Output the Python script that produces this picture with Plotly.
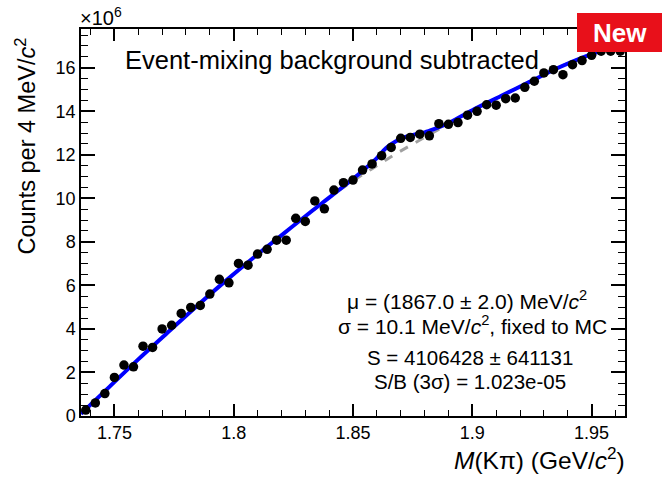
import plotly.graph_objects as go

# ---- data (counts in units of 10^6) ----
mass = [1.738 + 0.004 * i for i in range(57)]  # bin centres, 4 MeV bins
counts = [0.27, 0.60, 1.03, 1.77, 2.34, 2.26, 3.21, 3.15, 4.00, 4.17,
          4.71, 4.99, 5.08, 5.60, 6.28, 6.12, 7.01, 6.93, 7.44, 7.66,
          8.08, 8.08, 9.08, 8.94, 9.88, 9.52, 10.38, 10.72, 10.84, 11.30,
          11.58, 11.96, 12.34, 12.76, 12.80, 12.95, 12.87, 13.43, 13.40, 13.48,
          13.82, 14.00, 14.30, 14.28, 14.58, 14.61, 15.10, 15.38, 15.76, 15.91,
          15.68, 16.14, 16.33, 16.57, 16.76, 16.76, 16.76]

# total fit curve
fit_x = [1.736, 1.748, 1.760, 1.772, 1.784, 1.796, 1.808, 1.820, 1.832, 1.840,
         1.848, 1.852, 1.856, 1.860, 1.864, 1.868, 1.872, 1.876, 1.880, 1.884,
         1.890, 1.900, 1.912, 1.924, 1.936, 1.948, 1.956, 1.964]
fit_y = [0.10, 1.35, 2.60, 3.80, 5.00, 6.15, 7.25, 8.30, 9.35, 10.03,
         10.72, 11.07, 11.45, 11.85, 12.32, 12.62, 12.82, 12.94, 13.03, 13.18,
         13.45, 14.05, 14.70, 15.35, 16.00, 16.55, 16.85, 17.10]

# background-only curve
bg_x = [1.736, 1.748, 1.760, 1.772, 1.784, 1.796, 1.808, 1.820, 1.832, 1.844,
        1.852, 1.860, 1.868, 1.876, 1.884, 1.892, 1.900, 1.912, 1.924, 1.936,
        1.948, 1.956, 1.964]
bg_y = [0.10, 1.35, 2.60, 3.80, 5.00, 6.15, 7.25, 8.30, 9.35, 10.35,
        10.95, 11.50, 12.05, 12.55, 13.05, 13.55, 14.05, 14.70, 15.35, 16.00,
        16.55, 16.85, 17.10]

x_range = [1.736, 1.964]
y_range = [0, 17.78]
x_ticks = [1.75, 1.8, 1.85, 1.9, 1.95]
x_ticklabels = ["1.75", "1.8", "1.85", "1.9", "1.95"]
y_ticks = [0, 2, 4, 6, 8, 10, 12, 14, 16]
y_ticklabels = [str(v) for v in y_ticks]

stats_lines = [
    "\u03bc = (1867.0 \u00b1 2.0) MeV/<i>c</i><sup>2</sup>",
    "\u03c3 = 10.1 MeV/<i>c</i><sup>2</sup>, fixed to MC",
    "S = 4106428 \u00b1 641131",
    "S/B (3\u03c3) = 1.023e-05",
]

FONT = "Liberation Sans, Arial, Helvetica, sans-serif"

fig = go.Figure()
fig.add_trace(go.Scatter(x=bg_x, y=bg_y, mode="lines", line_shape="spline",
                         line=dict(color="#a0a0a0", width=3, dash="dash"),
                         hoverinfo="skip", showlegend=False))
fig.add_trace(go.Scatter(x=fit_x, y=fit_y, mode="lines", line_shape="spline",
                         line=dict(color="#0000ff", width=4),
                         hoverinfo="skip", showlegend=False))
fig.add_trace(go.Scatter(x=mass, y=counts, mode="markers",
                         marker=dict(color="black", size=9.5),
                         showlegend=False))

axis_common = dict(showline=True, linecolor="black", linewidth=1.5, mirror="allticks",
                   ticks="inside", tickcolor="black", showgrid=False, zeroline=False,
                   tickfont=dict(family=FONT, size=18, color="black"))

fig.update_xaxes(range=x_range, tickvals=x_ticks, ticktext=x_ticklabels,
                 ticklen=12, tickwidth=1.5,
                 minor=dict(ticks="inside", dtick=0.01, tick0=1.75, ticklen=6,
                            tickcolor="black", tickwidth=1.2),
                 **axis_common)
fig.update_yaxes(range=y_range, tickvals=y_ticks, ticktext=y_ticklabels,
                 ticklen=14, tickwidth=1.5,
                 minor=dict(ticks="inside", dtick=0.5, tick0=0, ticklen=7,
                            tickcolor="black", tickwidth=1.2),
                 **axis_common)

L, R, T, B = 81, 37, 29, 61
W, H = 662, 477
pw, ph = W - L - R, H - T - B

def px(xp):
    return (xp - L) / pw

def py(yp):
    return (H - B - yp) / ph

ann = []
ann.append(dict(text="Event-mixing background subtracted", x=px(332), y=py(60),
                xref="paper", yref="paper", xanchor="center", yanchor="middle",
                showarrow=False, font=dict(family=FONT, size=25.5, color="black")))
for txt, xc, yc, fs in zip(stats_lines, [467, 472, 470, 470], [300, 325, 357, 381],
                           [21, 21, 20.5, 20.5]):
    ann.append(dict(text=txt, x=px(xc), y=py(yc), xref="paper", yref="paper",
                    xanchor="center", yanchor="middle", showarrow=False,
                    font=dict(family=FONT, size=fs, color="black")))
ann.append(dict(text="Counts per 4 MeV/<i>c</i><sup>2</sup>", x=px(25), y=py(36),
                xref="paper", yref="paper", xanchor="center", yanchor="top",
                textangle=-90, showarrow=False,
                font=dict(family=FONT, size=23.5, color="black")))
ann.append(dict(text="<i>M</i>(K\u03c0) (GeV/<i>c</i><sup>2</sup>)", x=px(627), y=py(458),
                xref="paper", yref="paper", xanchor="right", yanchor="middle",
                showarrow=False, font=dict(family=FONT, size=24.5, color="black")))
ann.append(dict(text="\u00d710<sup>6</sup>", x=px(78), y=py(16),
                xref="paper", yref="paper", xanchor="left", yanchor="middle",
                showarrow=False, font=dict(family=FONT, size=20, color="black")))
ann.append(dict(text="<b>New</b>", x=px(620), y=py(33),
                xref="paper", yref="paper", xanchor="center", yanchor="middle",
                showarrow=False, font=dict(family=FONT, size=26, color="white")))

shapes = [dict(type="rect", xref="paper", yref="paper",
               x0=px(577), x1=px(662), y0=py(52), y1=py(13),
               fillcolor="#e8101a", line=dict(width=0), layer="above")]

fig.update_layout(width=W, height=H, margin=dict(l=L, r=R, t=T, b=B),
                  plot_bgcolor="white", paper_bgcolor="white",
                  annotations=ann, shapes=shapes, showlegend=False)

fig.write_html("out.html")
